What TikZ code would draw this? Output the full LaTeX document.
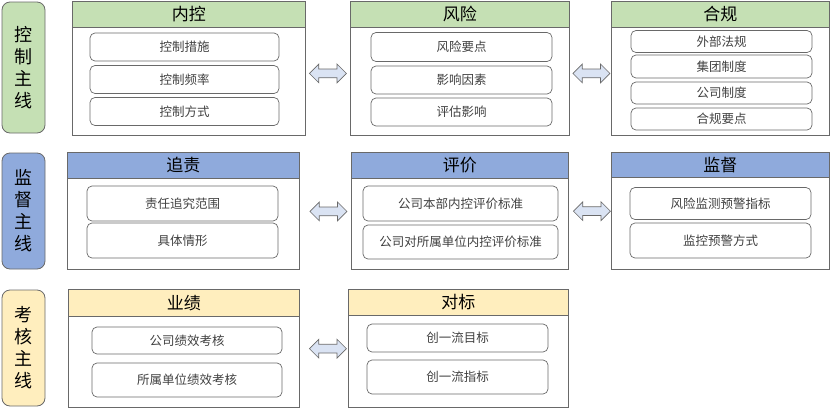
\documentclass[tikz,border=0pt]{standalone}
\usepackage{fontspec}
\usepackage{xcolor}
\setmainfont{Noto Sans CJK SC}
\usetikzlibrary{shapes,arrows,positioning,calc}
\definecolor{ctrlgreen}{RGB}{197,224,180}
\definecolor{supblue}{RGB}{143,170,220}
\definecolor{evalyellow}{RGB}{255,238,190}
\definecolor{arrowfill}{RGB}{218,227,243}
\definecolor{linegray}{RGB}{105,105,105}

\begin{document}
\begin{tikzpicture}[x=1pt,y=-1pt,
    mainline/.style={draw=linegray, rounded corners=8pt, minimum width=43pt, align=center, inner sep=0pt, font=\fontsize{18}{22}\selectfont, line width=0.8pt},
    panel/.style={draw=linegray, anchor=north west, inner sep=0pt, line width=0.8pt},
    headbox/.style={panel, font=\fontsize{17}{20}\selectfont},
    itembox/.style={draw=linegray, rounded corners=5pt, inner sep=0pt, text=black!75, font=\fontsize{12.5}{14}\selectfont, line width=0.7pt},
    linkarrow/.style={double arrow, draw=linegray, fill=arrowfill, minimum height=37pt, minimum width=18pt, double arrow head extend=5pt, inner sep=4pt, line width=0.7pt}
]
    \useasboundingbox (0,0) rectangle (831,408);

    % control line
    \node[mainline, fill=ctrlgreen, minimum height=131pt] (ctrl) at (23.5,67.5) {控\\制\\主\\线};
    \node[panel, minimum width=233pt, minimum height=108pt] (nkbody) at (72,27) {};
    \node[headbox, fill=ctrlgreen, minimum width=233pt, minimum height=26.5pt] (nk) at (72,0.5) {内控};
    \node[itembox, minimum width=189pt, minimum height=28pt] (nk1) at (184.5,47) {控制措施};
    \node[itembox, minimum width=189pt, minimum height=28pt] (nk2) at (184.5,79.5) {控制频率};
    \node[itembox, minimum width=189pt, minimum height=28pt] (nk3) at (184.5,111.5) {控制方式};

    \node[panel, minimum width=219pt, minimum height=108pt] (fxbody) at (350,27) {};
    \node[headbox, fill=ctrlgreen, minimum width=219pt, minimum height=26.5pt] (fx) at (350,0.5) {风险};
    \node[itembox, minimum width=181pt, minimum height=29pt] (fx1) at (461.5,47) {风险要点};
    \node[itembox, minimum width=181pt, minimum height=28pt] (fx2) at (461.5,80) {影响因素};
    \node[itembox, minimum width=181pt, minimum height=28pt] (fx3) at (461.5,112) {评估影响};

    \node[panel, minimum width=218pt, minimum height=108pt] (hgbody) at (611,27) {};
    \node[headbox, fill=ctrlgreen, minimum width=218pt, minimum height=26.5pt] (hg) at (611,0.5) {合规};
    \node[itembox, minimum width=181pt, minimum height=22pt] (hg1) at (721.5,41.5) {外部法规};
    \node[itembox, minimum width=181pt, minimum height=23pt] (hg2) at (721.5,66.5) {集团制度};
    \node[itembox, minimum width=181pt, minimum height=22pt] (hg3) at (721.5,93) {公司制度};
    \node[itembox, minimum width=181pt, minimum height=22pt] (hg4) at (721.5,119) {合规要点};

    \node[linkarrow] (a11) at ($(nkbody.east)!.5!(fxbody.west)+(0,-8)$) {};
    \node[linkarrow] (a12) at ($(fxbody.east)!.5!(hgbody.west)+(1,-8)$) {};

    % supervision line
    \node[mainline, fill=supblue, minimum height=116pt] (sup) at (23.5,211) {监\\督\\主\\线};
    \node[panel, minimum width=232pt, minimum height=91pt] (zzbody) at (67,178) {};
    \node[headbox, fill=supblue, minimum width=232pt, minimum height=26pt] (zz) at (67,152) {追责};
    \node[itembox, minimum width=191pt, minimum height=35pt] (zz1) at (182.5,203.5) {责任追究范围};
    \node[itembox, minimum width=191pt, minimum height=35pt] (zz2) at (182.5,240.5) {具体情形};

    \node[panel, minimum width=217pt, minimum height=91pt] (pjbody) at (351,178) {};
    \node[headbox, fill=supblue, minimum width=217pt, minimum height=26pt] (pj) at (351,152) {评价};
    \node[itembox, minimum width=195pt, minimum height=35pt] (pj1) at (460.5,203.5) {公司本部内控评价标准};
    \node[itembox, minimum width=195pt, minimum height=34pt] (pj2) at (460.5,242) {公司对所属单位内控评价标准};

    \node[panel, minimum width=218pt, minimum height=92pt] (jdbody) at (611,177) {};
    \node[headbox, fill=supblue, minimum width=218pt, minimum height=25pt] (jd) at (611,152) {监督};
    \node[itembox, minimum width=181pt, minimum height=32pt] (jd1) at (720.5,203.5) {风险监测预警指标};
    \node[itembox, minimum width=181pt, minimum height=35pt] (jd2) at (720.5,240.5) {监控预警方式};

    \node[linkarrow] (a21) at ($(zzbody.east)!.5!(pjbody.west)+(3,-12.5)$) {};
    \node[linkarrow] (a22) at ($(pjbody.east)!.5!(jdbody.west)+(2,-12.5)$) {};

    % assessment line
    \node[mainline, fill=evalyellow, minimum height=116pt] (eval) at (23.5,348) {考\\核\\主\\线};
    \node[panel, minimum width=231pt, minimum height=91pt] (yjbody) at (68,316) {};
    \node[headbox, fill=evalyellow, minimum width=231pt, minimum height=27pt] (yj) at (68,289) {业绩};
    \node[itembox, minimum width=190pt, minimum height=27pt] (yj1) at (187,340.5) {公司绩效考核};
    \node[itembox, minimum width=190pt, minimum height=34pt] (yj2) at (187,380) {所属单位绩效考核};

    \node[panel, minimum width=220pt, minimum height=92pt] (dbbody) at (348,315) {};
    \node[headbox, fill=evalyellow, minimum width=220pt, minimum height=26pt] (db) at (348,289) {对标};
    \node[itembox, minimum width=181pt, minimum height=28pt] (db1) at (457.5,338) {创一流目标};
    \node[itembox, minimum width=181pt, minimum height=34pt] (db2) at (457.5,377) {创一流指标};

    \node[linkarrow] (a31) at ($(yjbody.east)!.5!(dbbody.west)+(4,-13)$) {};
\end{tikzpicture}
\end{document}
